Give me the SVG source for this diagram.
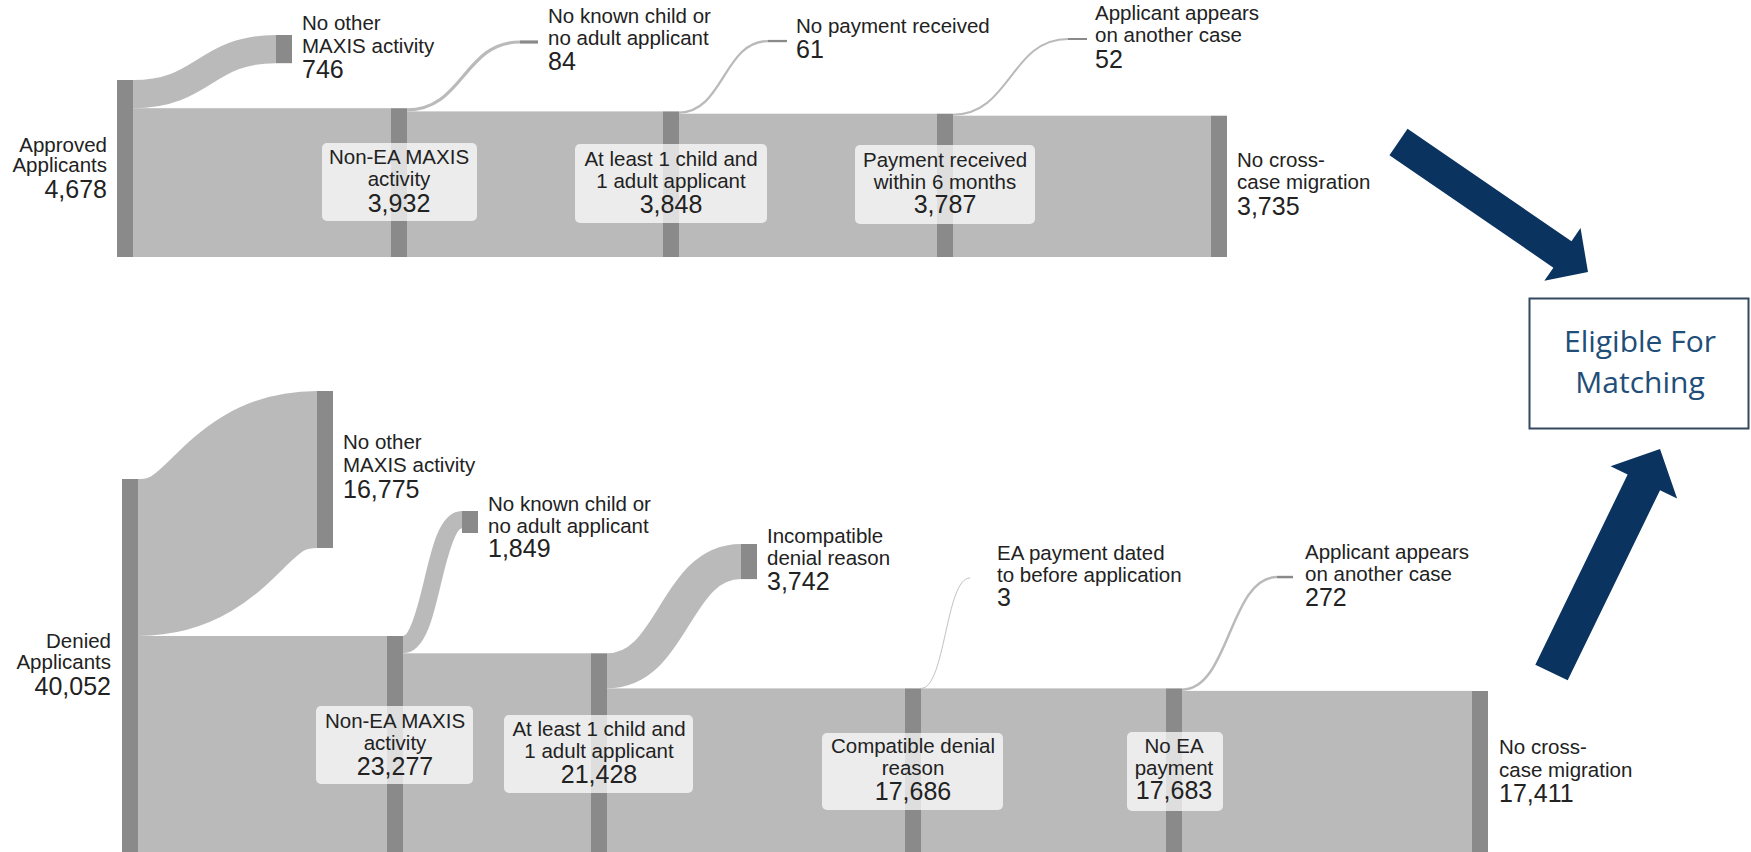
<svg xmlns="http://www.w3.org/2000/svg" width="1751" height="852" viewBox="0 0 1751 852">
<style>
.node{fill:#8a8a8a}
.link{fill:none;stroke:#bababa}
.band{fill:#bababa}
.lbl{font-family:"Liberation Sans",Arial,sans-serif;font-size:20.5px;fill:#222}
.num{font-size:25px}
.box{fill:#ffffff;fill-opacity:0.72}
.mid{text-anchor:middle}
.end{text-anchor:end}
.arrow{fill:#0a335f}
.elig{font-family:"Open Sans",sans-serif;font-size:30px;fill:#1f4e79;text-anchor:middle}
</style>
<rect width="1751" height="852" fill="#ffffff"/>
<g id="connectors">
  <path class="link" d="M133,94.1 C204.5,94.1 204.5,49.1 276,49.1" stroke-width="28.2"/>
  <rect class="band" x="133" y="108.2" width="258" height="148.8"/>
  <path class="link" d="M407,109.8 C463.5,109.8 463.5,42 520,42" stroke-width="3.2"/>
  <rect class="band" x="407" y="111.4" width="256" height="145.6"/>
  <path class="link" d="M679,112.55 C723.5,112.55 723.5,41.05 768,41.05" stroke-width="2.3"/>
  <rect class="band" x="679" y="113.7" width="258" height="143.3"/>
  <path class="link" d="M953,114.7 C1010.5,114.7 1010.5,39 1068,39" stroke-width="2"/>
  <rect class="band" x="953" y="115.7" width="258" height="141.3"/>

  <path class="link" d="M138,557.5 C227.5,557.5 227.5,469.5 317,469.5" stroke-width="157"/>
  <rect class="band" x="138" y="636" width="249" height="216"/>
  <path class="link" d="M403,644.65 C432.5,644.65 432.5,519.65 462,519.65" stroke-width="17.3"/>
  <rect class="band" x="403" y="653.3" width="188" height="198.7"/>
  <path class="link" d="M607,670.85 C674,670.85 674,561.55 741,561.55" stroke-width="35.1"/>
  <rect class="band" x="607" y="688.4" width="298" height="163.6"/>
  <path class="link" d="M921,688.4 C945.5,688.4 945.5,578 970,578" stroke-width="0.9" stroke="#a8a8a8"/>
  <rect class="band" x="921" y="688.4" width="245" height="163.6"/>
  <path class="link" d="M1182,689.65 C1229.5,689.65 1229.5,577 1277,577" stroke-width="2.5"/>
  <rect class="band" x="1182" y="690.9" width="290" height="161.1"/>

  <polygon class="arrow" transform="translate(1398.5,142) rotate(34.45)" points="0,-16 198.8,-16 198.8,-32 229.8,0 198.8,32 198.8,16 0,16"/>
  <polygon class="arrow" transform="translate(1551.5,672.5) rotate(-64.1)" points="0,-18 211.4,-18 211.4,-37 248.4,0 211.4,37 211.4,18 0,18"/>
</g>

<g id="top-approved">
  <rect class="node" x="117" y="80" width="16" height="177"/>
  <text class="lbl end" x="107" y="152">Approved</text>
  <text class="lbl end" x="107" y="172">Applicants</text>
  <text class="lbl num end" x="107" y="198">4,678</text>
</g>
<g id="top-no-other">
  <rect class="node" x="276" y="35" width="16" height="28.2"/>
  <text class="lbl" x="302" y="30">No other</text>
  <text class="lbl" x="302" y="53">MAXIS activity</text>
  <text class="lbl num" x="302" y="78">746</text>
</g>
<g id="top-non-ea">
  <rect class="node" x="391" y="108.2" width="16" height="148.8"/>
  <rect class="box" x="322" y="143" width="155" height="78" rx="5"/>
  <text class="lbl mid" x="399" y="164">Non-EA MAXIS</text>
  <text class="lbl mid" x="399" y="186">activity</text>
  <text class="lbl num mid" x="399" y="212">3,932</text>
</g>
<g id="top-no-child">
  <rect class="node" x="520" y="40.4" width="18" height="3.2"/>
  <text class="lbl" x="548" y="23">No known child or</text>
  <text class="lbl" x="548" y="45">no adult applicant</text>
  <text class="lbl num" x="548" y="70">84</text>
</g>
<g id="top-at-least">
  <rect class="node" x="663" y="111.4" width="16" height="145.6"/>
  <rect class="box" x="575" y="144" width="192" height="79" rx="5"/>
  <text class="lbl mid" x="671" y="166">At least 1 child and</text>
  <text class="lbl mid" x="671" y="188">1 adult applicant</text>
  <text class="lbl num mid" x="671" y="213">3,848</text>
</g>
<g id="top-no-payment">
  <rect class="node" x="768" y="39.9" width="19" height="2.3"/>
  <text class="lbl" x="796" y="33">No payment received</text>
  <text class="lbl num" x="796" y="58">61</text>
</g>
<g id="top-payment">
  <rect class="node" x="937" y="113.7" width="16" height="143.3"/>
  <rect class="box" x="855" y="145" width="180" height="79" rx="5"/>
  <text class="lbl mid" x="945" y="167">Payment received</text>
  <text class="lbl mid" x="945" y="189">within 6 months</text>
  <text class="lbl num mid" x="945" y="213">3,787</text>
</g>
<g id="top-another-case">
  <rect class="node" x="1068" y="38" width="19" height="2"/>
  <text class="lbl" x="1095" y="20">Applicant appears</text>
  <text class="lbl" x="1095" y="42">on another case</text>
  <text class="lbl num" x="1095" y="68">52</text>
</g>
<g id="top-no-cross">
  <rect class="node" x="1211" y="115.7" width="16" height="141.3"/>
  <text class="lbl" x="1237" y="167">No cross-</text>
  <text class="lbl" x="1237" y="189">case migration</text>
  <text class="lbl num" x="1237" y="215">3,735</text>
</g>

<g id="bot-denied">
  <rect class="node" x="122" y="479" width="16" height="373"/>
  <text class="lbl end" x="111" y="648">Denied</text>
  <text class="lbl end" x="111" y="669">Applicants</text>
  <text class="lbl num end" x="111" y="695">40,052</text>
</g>
<g id="bot-no-other">
  <rect class="node" x="317" y="391" width="16" height="157"/>
  <text class="lbl" x="343" y="449">No other</text>
  <text class="lbl" x="343" y="472">MAXIS activity</text>
  <text class="lbl num" x="343" y="498">16,775</text>
</g>
<g id="bot-non-ea">
  <rect class="node" x="387" y="636" width="16" height="216"/>
  <rect class="box" x="316" y="706" width="157" height="78" rx="5"/>
  <text class="lbl mid" x="395" y="728">Non-EA MAXIS</text>
  <text class="lbl mid" x="395" y="750">activity</text>
  <text class="lbl num mid" x="395" y="775">23,277</text>
</g>
<g id="bot-no-child">
  <rect class="node" x="462" y="511" width="16" height="22"/>
  <text class="lbl" x="488" y="511">No known child or</text>
  <text class="lbl" x="488" y="533">no adult applicant</text>
  <text class="lbl num" x="488" y="557">1,849</text>
</g>
<g id="bot-at-least">
  <rect class="node" x="591" y="653.3" width="16" height="198.7"/>
  <rect class="box" x="504" y="715" width="189" height="78" rx="5"/>
  <text class="lbl mid" x="599" y="736">At least 1 child and</text>
  <text class="lbl mid" x="599" y="758">1 adult applicant</text>
  <text class="lbl num mid" x="599" y="783">21,428</text>
</g>
<g id="bot-incompatible">
  <rect class="node" x="741" y="544" width="16" height="35.1"/>
  <text class="lbl" x="767" y="543">Incompatible</text>
  <text class="lbl" x="767" y="565">denial reason</text>
  <text class="lbl num" x="767" y="590">3,742</text>
</g>
<g id="bot-compatible">
  <rect class="node" x="905" y="688.4" width="16" height="163.6"/>
  <rect class="box" x="822" y="733" width="181" height="77" rx="5"/>
  <text class="lbl mid" x="913" y="753">Compatible denial</text>
  <text class="lbl mid" x="913" y="775">reason</text>
  <text class="lbl num mid" x="913" y="800">17,686</text>
</g>
<g id="bot-ea-before">
  <text class="lbl" x="997" y="560">EA payment dated</text>
  <text class="lbl" x="997" y="582">to before application</text>
  <text class="lbl num" x="997" y="606">3</text>
</g>
<g id="bot-no-ea">
  <rect class="node" x="1166" y="688.4" width="16" height="163.6"/>
  <rect class="box" x="1127" y="732" width="96" height="79" rx="5"/>
  <text class="lbl mid" x="1174" y="753">No EA</text>
  <text class="lbl mid" x="1174" y="775">payment</text>
  <text class="lbl num mid" x="1174" y="799">17,683</text>
</g>
<g id="bot-another-case">
  <rect class="node" x="1277" y="575.8" width="16" height="2.5"/>
  <text class="lbl" x="1305" y="559">Applicant appears</text>
  <text class="lbl" x="1305" y="581">on another case</text>
  <text class="lbl num" x="1305" y="606">272</text>
</g>
<g id="bot-no-cross">
  <rect class="node" x="1472" y="691" width="16" height="161"/>
  <text class="lbl" x="1499" y="754">No cross-</text>
  <text class="lbl" x="1499" y="777">case migration</text>
  <text class="lbl num" x="1499" y="802">17,411</text>
</g>

<g id="eligible">
  <rect x="1529.5" y="298.5" width="219" height="130" fill="#ffffff" stroke="#34495e" stroke-width="2"/>
  <text class="elig" x="1640" y="352">Eligible For</text>
  <text class="elig" x="1640" y="393">Matching</text>
</g>
</svg>
